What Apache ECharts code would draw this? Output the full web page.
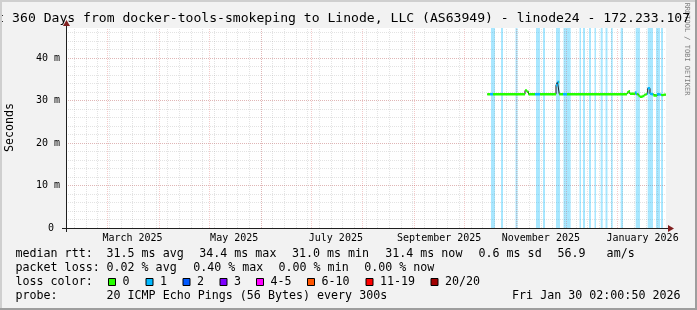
<!DOCTYPE html>
<html><head><meta charset="utf-8">
<script src="https://cdn.jsdelivr.net/npm/echarts@6/dist/echarts.min.js"></script>
<style>html,body{margin:0;padding:0;background:#f2f2f2}#c{width:697px;height:310px}</style>
</head><body><div id="c"></div>
<script>
// ---------- data ----------
const titleText = 'Last 360 Days from docker-tools-smokeping to Linode, LLC (AS63949) - linode24 - 172.233.107';
const startTime = '2025-02-04T02:00:50Z';
const endTime = '2026-01-30T02:00:50Z';
const yMax = 47.1;
const monthLines = ['2025-03-01','2025-04-01','2025-05-01','2025-06-01','2025-07-01','2025-08-01',
  '2025-09-01','2025-10-01','2025-11-01','2025-12-01','2026-01-01'];
const firstSunday = '2025-02-09';
const monthLabelDates = ['2025-03-16','2025-05-16','2025-07-16','2025-09-16','2025-11-16','2026-01-16'];
const monthLabels = ['March 2025','May 2025','July 2025','September 2025','November 2025','January 2026'];

// median rtt (ms): each value holds from its time until the next time
const medianRtt = [
  ['2025-10-14 20:43',31.5],['2025-11-06 11:36',32.4],['2025-11-07 16:24',32.1],['2025-11-08 14:00',31.5],
  ['2025-11-25 02:00',33.6],['2025-11-25 23:36',34.4],['2025-11-27 01:30',31.5],['2026-01-06 16:24',31.9],
  ['2026-01-07 14:00',32.2],['2026-01-08 11:36',31.6],['2026-01-11 11:36',31.9],['2026-01-12 09:12',31.5],
  ['2026-01-13 14:00',31.1],['2026-01-14 11:36',30.9],['2026-01-15 23:36',31.1],['2026-01-17 04:24',31.4],
  ['2026-01-18 09:12',31.6],['2026-01-19 02:28',32.9],['2026-01-20 11:36',31.6],['2026-01-21 09:12',31.5],
  ['2026-01-22 14:00',31.2],['2026-01-24 16:24',31.5],['2026-01-26 04:24',31.4],['2026-01-27 09:12',31.3],
  ['2026-01-28 14:00',31.4],['2026-01-30 02:00',31.4]
];
// periods where the median line shows 1 lost ping
const loss1Segments = [
  ['2025-10-16 11:12','2025-10-18 06:48'],['2025-11-12 11:36','2025-11-15 11:36'],
  ['2025-11-25 02:00','2025-11-27 04:24'],['2025-11-29 06:48','2025-12-01 16:24'],
  ['2026-01-11 11:36','2026-01-12 16:24'],['2026-01-18 23:36','2026-01-22 06:48'],
  ['2026-01-24 23:36','2026-01-27 09:12']
];
// loss background stripes
const lossBars = [
  ['2025-10-17 01:55','2025-10-19 11:36'],['2025-10-23 02:00','2025-10-24 06:48'],
  ['2025-10-31 18:48','2025-11-01 23:36'],['2025-11-13 02:00','2025-11-15 11:36'],
  ['2025-11-17 06:48','2025-11-18 11:36'],['2025-11-25 02:00','2025-11-27 11:36'],
  ['2025-11-29 14:00','2025-12-03 21:40'],['2025-12-09 04:24','2025-12-10 02:00'],
  ['2025-12-11 06:48','2025-12-12 11:36'],['2025-12-14 21:12','2025-12-16 02:00'],
  ['2025-12-18 04:24','2025-12-19 02:00'],['2025-12-21 21:40','2025-12-23 02:28'],
  ['2025-12-24 18:48','2025-12-25 23:36'],['2025-12-28 02:00','2025-12-29 02:28'],
  ['2026-01-02 21:40','2026-01-04 06:48'],['2026-01-11 21:40','2026-01-14 11:36'],
  ['2026-01-19 02:28','2026-01-22 06:48'],['2026-01-24 02:00','2026-01-26 11:36'],
  ['2026-01-27 02:00','2026-01-28 06:48']
];
// smoke (time, low, high) in ms
const smoke = [
  ['2025-10-14 20:43',31.2,31.6],['2025-10-18 06:48',31.2,32.0],['2025-10-22 11:36',31.2,32.1],
  ['2025-10-26 16:24',31.2,31.9],['2025-10-30 21:12',31.2,31.7],['2025-11-03 11:36',31.2,31.6],
  ['2025-12-03 11:36',31.2,31.6],['2025-12-06 11:36',31.2,32.0],['2025-12-09 11:36',31.2,31.9],
  ['2025-12-11 21:12',31.2,31.6],['2025-12-13 16:24',31.2,32.1],['2025-12-16 16:24',31.2,32.6],
  ['2025-12-17 21:12',31.2,32.9],['2025-12-18 18:48',31.2,31.6],['2026-01-30 00:00',31.2,31.6]
];
const rttStats = ['31.5','34.4','31.0','31.4'];   // avg max min now
const rttSd = '0.6', amS = '56.9';
const lossStats = ['0.02','0.40','0.00','0.00']; // avg max min now
const lossLabels = ['0','1','2','3','4-5','6-10','11-19','20/20'];
const lossColors = ['#26ff00','#00b8ff','#0059ff','#7e00ff','#ff00ff','#ff5500','#ff0000','#a10000'];
const probeText = '20 ICMP Echo Pings (56 Bytes) every 300s';
const dateText = 'Fri Jan 30 02:00:50 2026';

// ---------- helpers ----------
const T = s => Date.parse(s.replace(' ', 'T') + ':00Z');
const D = s => Date.parse(s + 'T00:00:00Z');
const DAY = 86400000;
const tMin = Date.parse(startTime), tMax = Date.parse(endTime);
const weekLines = [];
for (let t = D(firstSunday); t < tMax; t += 7 * DAY) weekLines.push(t);
const labelTs = monthLabelDates.map(D);

const MONO = '"DejaVu Sans Mono", monospace';
const gridGray = {color: 'rgba(143,143,143,0.5)', width: 0.5, type: [1, 1]};
const gridRed = {color: 'rgba(222,79,79,0.5)', width: 0.6, type: [1, 1]};

const chart = echarts.init(document.getElementById('c'), null, {renderer: 'canvas'});

const L = 15.5, LF = '11.66px ' + MONO;
const txt = (text, x, y, extra) => ({type: 'text', x, y, z: 100,
  style: Object.assign({text, font: LF, fill: '#000', verticalAlign: 'middle'}, extra || {})});

const row1 = [['median rtt:', L], [rttStats[0] + ' ms avg', 106.5], [rttStats[1] + ' ms max', 199.2],
  [rttStats[2] + ' ms min', 291.9], [rttStats[3] + ' ms now', 385.2], [rttSd + ' ms sd', 478.5],
  [amS + '   am/s', 557.5]];
const row2 = [['packet loss:', L], [lossStats[0] + ' % avg', 106.5], [lossStats[1] + ' % max', 193.2],
  [lossStats[2] + ' % min', 278.5], [lossStats[3] + ' % now', 364.2]];
const boxX = [108, 145.5, 182.5, 219.5, 256, 307, 365.5, 430.5];

const graphics = [
  {type: 'rect', shape: {x: 0, y: 0, width: 697, height: 2}, style: {fill: '#cfcfcf'}, z: 200},
  {type: 'rect', shape: {x: 0, y: 0, width: 2, height: 310}, style: {fill: '#cfcfcf'}, z: 200},
  {type: 'rect', shape: {x: 0, y: 308, width: 697, height: 2}, style: {fill: '#9e9e9e'}, z: 200},
  {type: 'rect', shape: {x: 695, y: 0, width: 2, height: 310}, style: {fill: '#9e9e9e'}, z: 200},
  {type: 'text', x: 687, y: 49, rotation: -Math.PI / 2, z: 100,
    style: {text: 'RRDTOOL / TOBI OETIKER', font: '7px ' + MONO, fill: 'rgba(0,0,0,0.5)', align: 'center', verticalAlign: 'middle'}},
  {type: 'text', x: -27.3, y: 18.8, z: 101,
    style: {text: titleText, font: '13.1px ' + MONO, fill: '#000', align: 'left', verticalAlign: 'middle'}},
  {type: 'text', x: 10, y: 127.5, rotation: Math.PI / 2, z: 100,
    style: {text: 'Seconds', font: LF, fill: '#000', align: 'center', verticalAlign: 'middle'}},
  {type: 'line', shape: {x1: 62, y1: 228.5, x2: 670, y2: 228.5}, style: {stroke: '#1f1f1f', lineWidth: 1}, z: 150},
  {type: 'line', shape: {x1: 66.5, y1: 232, x2: 66.5, y2: 24}, style: {stroke: '#1f1f1f', lineWidth: 1}, z: 150},
  {type: 'polygon', shape: {points: [[668, 225], [668, 232], [674, 228.5]]}, style: {fill: '#801f1f'}, z: 151},
  {type: 'polygon', shape: {points: [[63, 26], [70, 26], [66.5, 20]]}, style: {fill: '#801f1f'}, z: 151},
  txt('loss color:', L, 282.2),
  txt('probe:', L, 296.1),
  txt(probeText, 106.5, 296.1),
  txt(dateText, 680.5, 296.1, {align: 'right'})
];
row1.forEach(r => graphics.push(txt(r[0], r[1], 254.4)));
row2.forEach(r => graphics.push(txt(r[0], r[1], 268.3)));
lossLabels.forEach((lab, i) => {
  graphics.push({type: 'rect', shape: {x: boxX[i] + 0.5, y: 278.5, width: 7, height: 7}, z: 100,
    style: {fill: lossColors[i], stroke: '#000', lineWidth: 1}});
  graphics.push(txt(lab, boxX[i] + 14.5, 282.2));
});

const gridMarks = weekLines.map(t => ({xAxis: t, lineStyle: gridGray}))
  .concat(monthLines.map(s => ({xAxis: D(s), lineStyle: gridRed})));

const stepData = medianRtt.map(p => [T(p[0]), p[1]]);
// horizontal pieces of the median line (each value held until the next time)
const flatData = [];
for (let i = 0; i < stepData.length - 1; i++) {
  flatData.push([stepData[i][0], stepData[i][1]], [stepData[i + 1][0], stepData[i][1]], [stepData[i + 1][0], null]);
}

chart.setOption({
  animation: false,
  backgroundColor: '#f2f2f2',
  grid: {left: 66, top: 28, width: 600, height: 200, show: true, backgroundColor: '#ffffff', borderWidth: 0},
  xAxis: {
    type: 'value', min: tMin, max: tMax, scale: true,
    axisLine: {show: false}, axisTick: {show: false}, splitLine: {show: false},
    axisLabel: {
      customValues: labelTs, hideOverlap: false,
      formatter: v => { const i = labelTs.indexOf(v); return i >= 0 ? monthLabels[i] : ''; },
      fontFamily: 'DejaVu Sans Mono', fontSize: 10, color: '#000', margin: 5
    }
  },
  yAxis: [
    {type: 'value', min: 0, max: yMax, interval: 10,
      axisLine: {show: false}, axisTick: {show: false},
      axisLabel: {formatter: v => v === 0 ? '0 ' : v + ' m', showMaxLabel: false,
        fontFamily: 'DejaVu Sans Mono', fontSize: 10, color: '#000', margin: 6},
      splitLine: {show: true, showMinLine: false, showMaxLine: false, lineStyle: gridRed}, z: 1},
    {type: 'value', min: 0, max: yMax, interval: 2, position: 'left',
      axisLine: {show: false}, axisTick: {show: false}, axisLabel: {show: false},
      splitLine: {show: true, showMinLine: false, showMaxLine: false, lineStyle: gridGray}, z: 0}
  ],
  visualMap: {
    type: 'piecewise', show: false, dimension: 0, seriesIndex: 5,
    pieces: loss1Segments.map(s => ({gte: T(s[0]), lte: T(s[1]), color: '#00b8ff'})),
    outOfRange: {color: '#26ff00'}
  },
  series: [
    {type: 'line', name: 'grid', data: stepData, z: 1, silent: true, showSymbol: false,
      lineStyle: {opacity: 0},
      markLine: {silent: true, symbol: ['none', 'none'], label: {show: false}, animation: false, data: gridMarks}},
    {type: 'line', name: 'lossbars', data: stepData, z: 2, silent: true, showSymbol: false,
      lineStyle: {opacity: 0},
      markArea: {silent: true, itemStyle: {color: 'rgba(0,184,255,0.34)'}, label: {show: false},
        data: lossBars.map(b => [{xAxis: T(b[0])}, {xAxis: T(b[1])}])}},
    {type: 'line', name: 'smokeLow', stack: 'smoke', data: smoke.map(p => [T(p[0]), p[1]]),
      z: 3, showSymbol: false, lineStyle: {opacity: 0}, silent: true},
    {type: 'line', name: 'smokeBand', stack: 'smoke', data: smoke.map(p => [T(p[0]), +(p[2] - p[1]).toFixed(2)]),
      z: 3, showSymbol: false, lineStyle: {width: 0, opacity: 0}, areaStyle: {color: '#d4d4d4', opacity: 1}, silent: true},
    {type: 'line', name: 'medianEdges', data: stepData, step: 'end', z: 4, showSymbol: false,
      lineStyle: {width: 1, color: '#1a1a1a'}, itemStyle: {color: '#1a1a1a'}, silent: true},
    {type: 'line', name: 'median', data: flatData, z: 5, showSymbol: false, connectNulls: false,
      lineStyle: {width: 2.4}, silent: true}
  ],
  graphic: graphics
});
</script></body></html>
